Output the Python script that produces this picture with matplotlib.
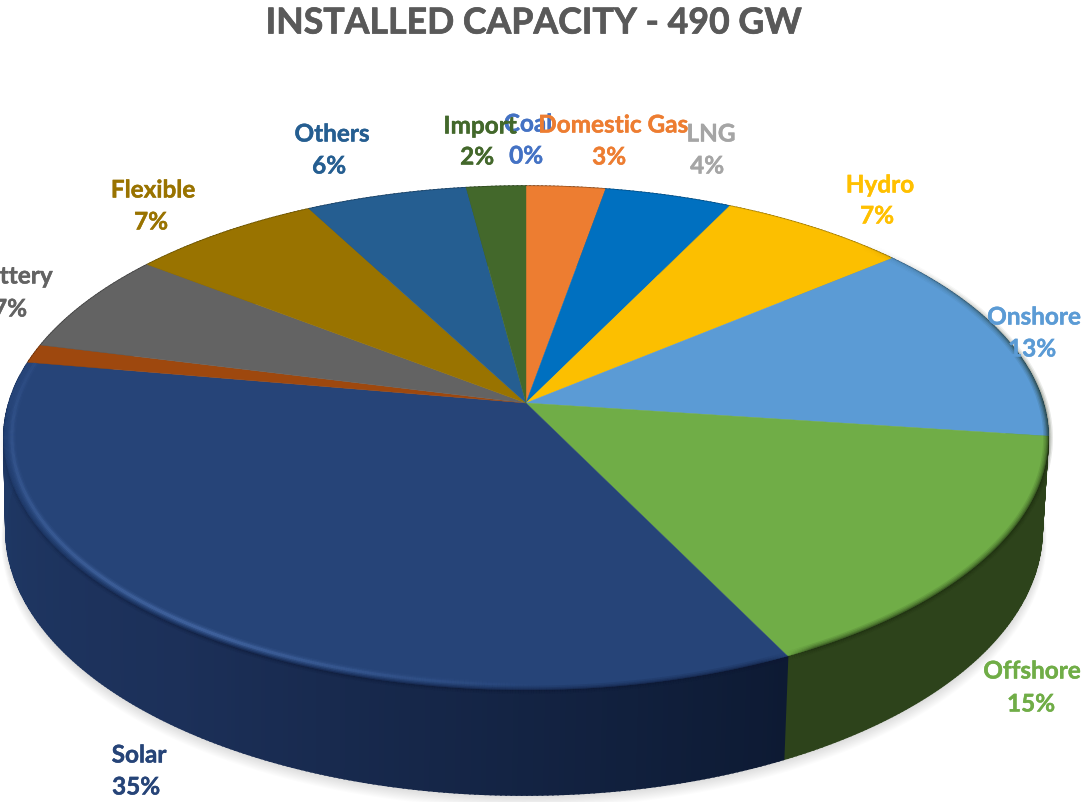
import numpy as np
import matplotlib
matplotlib.use("Agg")
import matplotlib.pyplot as plt
import matplotlib.patheffects as pe
from matplotlib.collections import LineCollection
from matplotlib.colors import to_rgb

TITLE = "INSTALLED CAPACITY - 490 GW"
categories = ["Coal", "Domestic Gas", "LNG", "Hydro", "Onshore", "Offshore", "Solar",
              "Other", "Battery", "Flexible", "Others", "Import"]
# slice sizes (slightly finer than the printed labels)
shares = [0.0, 2.8, 4.5, 6.7, 13.1, 15.6, 35.0, 1.2, 6.5, 6.8, 5.7, 2.15]
percent_labels = ["0%", "3%", "4%", "7%", "13%", "15%", "35%", None, "7%", "7%", "6%", "2%"]

face_colors = ["#4472c4", "#ed7d31", "#0070c0", "#fcbf00", "#5b9bd5", "#70ad47", "#264478",
               "#9e480e", "#636363", "#997300", "#255e91", "#43682b"]
text_colors = ["#4472c4", "#ed7d31", "#a5a5a5", "#ffc000", "#5b9bd5", "#70ad47", "#264478",
               "#9e480e", "#636363", "#997300", "#255e91", "#43682b"]
side_colors = ["#2a4478", "#8a4a1c", "#004a80", "#a07a00", "#3a6a96", "#2d431b", "#1b2f57",
               "#6a300a", "#3c3c3c", "#665000", "#193f62", "#2c451d"]

# label layout: (name centre) and (percent centre) in canvas units
name_pos = [(528, 124), (613, 125), (711, 134), (880, 185), (1034, 317), (1032, 671),
            (139, 755), None, (12, 276), (153, 190), (332, 134), (480, 126)]
pct_pos = [(526, 156), (609, 157), (707, 166), (877, 216), (1032, 349), (1031, 704),
           (136, 787), None, (10, 309), (151, 222), (329, 166), (477, 157)]

K = 0.139


def top_xy(theta, r=1.0):
    u, v = r * np.sin(theta), r * np.cos(theta)
    w = 1 + K * v
    return 526 + 517 * u / w, 403 - 247 * v / w


def low_xy(theta, r=1.0, dy=0.0):
    u, v = r * np.sin(theta), r * np.cos(theta)
    w = 1 + K * v
    return 524 + 513 * u / w, 493 + dy - 260 * v / w


def ring(r, lw, color_fn, zorder=4):
    """Stroke the rim of the top face, with a colour per short segment."""
    th = np.linspace(0, 2 * np.pi, 1441)
    x, y = top_xy(th, r=r)
    pts = np.column_stack([x, y])
    segs = np.stack([pts[:-1], pts[1:]], axis=1)
    cols = [color_fn(np.degrees(a)) for a in (th[:-1] + th[1:]) / 2]
    ax.add_collection(LineCollection(segs, colors=cols, linewidths=lw, zorder=zorder,
                                     capstyle="butt"))


plt.rcParams["font.family"] = ["Lato", "DejaVu Sans"]
fig = plt.figure(figsize=(10.82, 8.02), dpi=100, facecolor="white")
ax = fig.add_axes([0, 0, 1, 1])
ax.set_xlim(0, 1082)
ax.set_ylim(802, 0)
ax.axis("off")

# soft shadow
full = np.linspace(0, 2 * np.pi, 721)
for d in np.arange(18, 0, -1.5):
    sx, sy = low_xy(full, r=1 + d * 0.0005, dy=d * 0.55)
    ax.fill(sx, sy, color="black", alpha=0.012, lw=0, zorder=1)

# side wall
edges = np.radians(np.cumsum([0] + shares) * 3.6)
edges[-1] = 2 * np.pi
grad_left, grad_mid, grad_right = (np.array(to_rgb(h)) for h in ("#203b69", "#1c3059", "#0d1a33"))
for i, col in enumerate(side_colors):
    a0, a1 = edges[i], edges[i + 1]
    if a1 <= a0:
        continue
    steps = np.linspace(a0, a1, max(2, int(np.degrees(a1 - a0)) * 2 + 1))
    for s0, s1 in zip(steps[:-1], steps[1:]):
        c = np.array(to_rgb(col))
        if categories[i] == "Solar":
            f = ((s0 + s1) / 2 - a0) / (a1 - a0)
            if f < 0.5:
                c = grad_right + (grad_mid - grad_right) * f / 0.5
            else:
                c = grad_mid + (grad_left - grad_mid) * (f - 0.5) / 0.5
        tx0, ty0 = top_xy(s0)
        tx1, ty1 = top_xy(s1)
        lx0, ly0 = low_xy(s0)
        lx1, ly1 = low_xy(s1)
        ax.fill([tx0, tx1, lx1, lx0], [ty0, ty1, ly1, ly0], facecolor=c, edgecolor=c,
                lw=1.3, zorder=2)

# top face
for i, col in enumerate(face_colors):
    a0, a1 = edges[i], edges[i + 1]
    if a1 <= a0:
        continue
    t = np.linspace(a0, a1, max(2, int(np.degrees(a1 - a0)) * 2 + 1))
    x, y = top_xy(t)
    cx, cy = top_xy(np.array([0.0]), r=0.0)
    ax.fill(np.r_[cx, x], np.r_[cy, y], color=col, lw=0.3, zorder=3)

# bevel: soft dark fade at the rim of the right-hand slices
offshore_end = np.degrees(edges[6])
solar_end = np.degrees(edges[7])


def dark_rim(alpha):
    def fn(deg):
        vis = np.clip((deg - 45) / 45, 0, 1) * np.clip((offshore_end - deg) / 3, 0, 1)
        return (0.1, 0.16, 0.06, alpha * vis)
    return fn


for lw, alpha in [(7, 0.10), (5, 0.14), (3, 0.18), (1.5, 0.25)]:
    ring(1.0, lw, dark_rim(alpha))


def soft_solar(alpha):
    def fn(deg):
        vis = np.clip((deg - offshore_end) / 3, 0, 1) * np.clip((270 - deg) / 60, 0, 1)
        return (0.05, 0.09, 0.2, alpha * vis)
    return fn


for lw, alpha in [(6, 0.12), (3.5, 0.18), (1.5, 0.25)]:
    ring(1.0, lw, soft_solar(alpha))


def streak(alpha):
    def fn(deg):
        if not offshore_end < deg < solar_end:
            return (0, 0, 0, 0)
        vis = np.clip((deg - 178) / 35, 0, 1) * np.clip(1 - (deg - 215) / 85, 0.25, 1)
        return (0.36, 0.51, 0.77, alpha * vis)
    return fn


for lw, alpha in [(6, 0.10), (4, 0.16), (2.2, 0.30)]:
    ring(0.985, lw, streak(alpha))

# labels
for name, pct, col, np_, pp in zip(categories, percent_labels, text_colors, name_pos, pct_pos):
    if pct is None:
        continue
    fx = [pe.withStroke(linewidth=0.3, foreground=col)]
    ax.text(np_[0], np_[1], name, color=col, fontsize=17.5, fontweight="bold",
            ha="center", va="center", zorder=6, clip_on=True, path_effects=fx)
    ax.text(pp[0], pp[1], pct, color=col, fontsize=17.5, fontweight="bold",
            ha="center", va="center", zorder=6, clip_on=True, path_effects=fx)

ax.text(533, 23, TITLE, color="#595959", fontsize=25.7, fontweight="bold",
        ha="center", va="center", zorder=6,
        path_effects=[pe.withStroke(linewidth=0.5, foreground="#595959")])

fig.savefig("out.png", dpi=100, facecolor="white")
